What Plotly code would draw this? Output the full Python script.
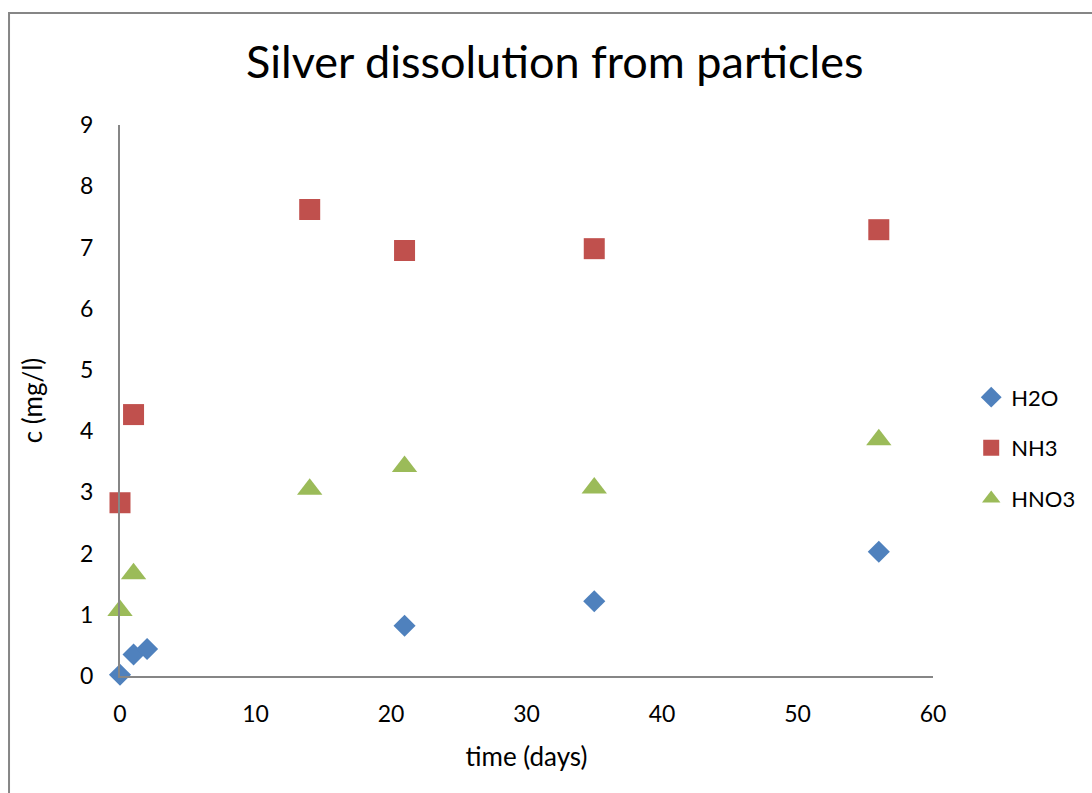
import plotly.graph_objects as go

# Dissolved silver concentration (mg/l) over time (days)
h2o_days = [0, 1, 2, 21, 35, 56]
h2o_conc = [0.02, 0.35, 0.44, 0.82, 1.22, 2.03]

nh3_days = [0, 1, 14, 21, 35, 56]
nh3_conc = [2.83, 4.27, 7.62, 6.95, 6.98, 7.29]

hno3_days = [0, 1, 14, 21, 35, 56]
hno3_conc = [1.07, 1.67, 3.05, 3.42, 3.07, 3.86]

x_ticks = [0, 10, 20, 30, 40, 50, 60]
y_ticks = [0, 1, 2, 3, 4, 5, 6, 7, 8, 9]

FONT = "Lato, 'Open Sans', sans-serif"

fig = go.Figure()
fig.add_trace(go.Scatter(x=h2o_days, y=h2o_conc, mode="markers", name="H2O",
                         legendgroup="h2o", cliponaxis=False,
                         marker=dict(symbol="diamond", size=17, color="#4F81BD")))
fig.add_trace(go.Scatter(x=nh3_days, y=nh3_conc, mode="markers", name="NH3",
                         legendgroup="nh3", cliponaxis=False,
                         marker=dict(symbol="square", size=21, color="#C0504D")))
fig.add_trace(go.Scatter(x=hno3_days, y=hno3_conc, mode="markers", name="HNO3",
                         legendgroup="hno3", cliponaxis=False,
                         marker=dict(symbol="triangle-up", size=22, color="#9BBB59")))

fig.update_layout(
    width=1092, height=793,
    margin=dict(l=120, r=159, t=125, b=117, autoexpand=False),
    paper_bgcolor="white", plot_bgcolor="white",
    font=dict(family=FONT, color="#000000", size=22),
    title=dict(text="Silver dissolution from particles", x=0.508, xanchor="center",
               y=0.922, yanchor="middle", font=dict(size=45, family=FONT)),
    xaxis=dict(range=[0, 60], tickvals=x_ticks, showgrid=False, zeroline=False,
               showline=True, linecolor="#868686", linewidth=2, ticks="",
               tickfont=dict(size=23), ticklabelstandoff=16,
               title=dict(text="time (days)", font=dict(size=26), standoff=22)),
    yaxis=dict(range=[0, 9], tickvals=y_ticks, showgrid=False, zeroline=False,
               showline=True, linecolor="#868686", linewidth=2, ticks="",
               tickfont=dict(size=23), ticklabelstandoff=20,
               title=dict(text="c (mg/l)", font=dict(size=26), standoff=30)),
    legend=dict(x=1.047, y=0.414, xanchor="left", yanchor="middle",
                font=dict(size=22), itemsizing="trace", tracegroupgap=19,
                bgcolor="rgba(0,0,0,0)"),
    showlegend=True,
)

# Chart-area frame, running past the right and bottom page edges
fig.add_shape(type="rect", xref="paper", yref="paper",
              x0=-0.1365, y0=-0.3, x1=1.3, y1=1.2033,
              line=dict(color="#868686", width=2), fillcolor="rgba(0,0,0,0)",
              layer="below")

fig.write_html("out.html")
